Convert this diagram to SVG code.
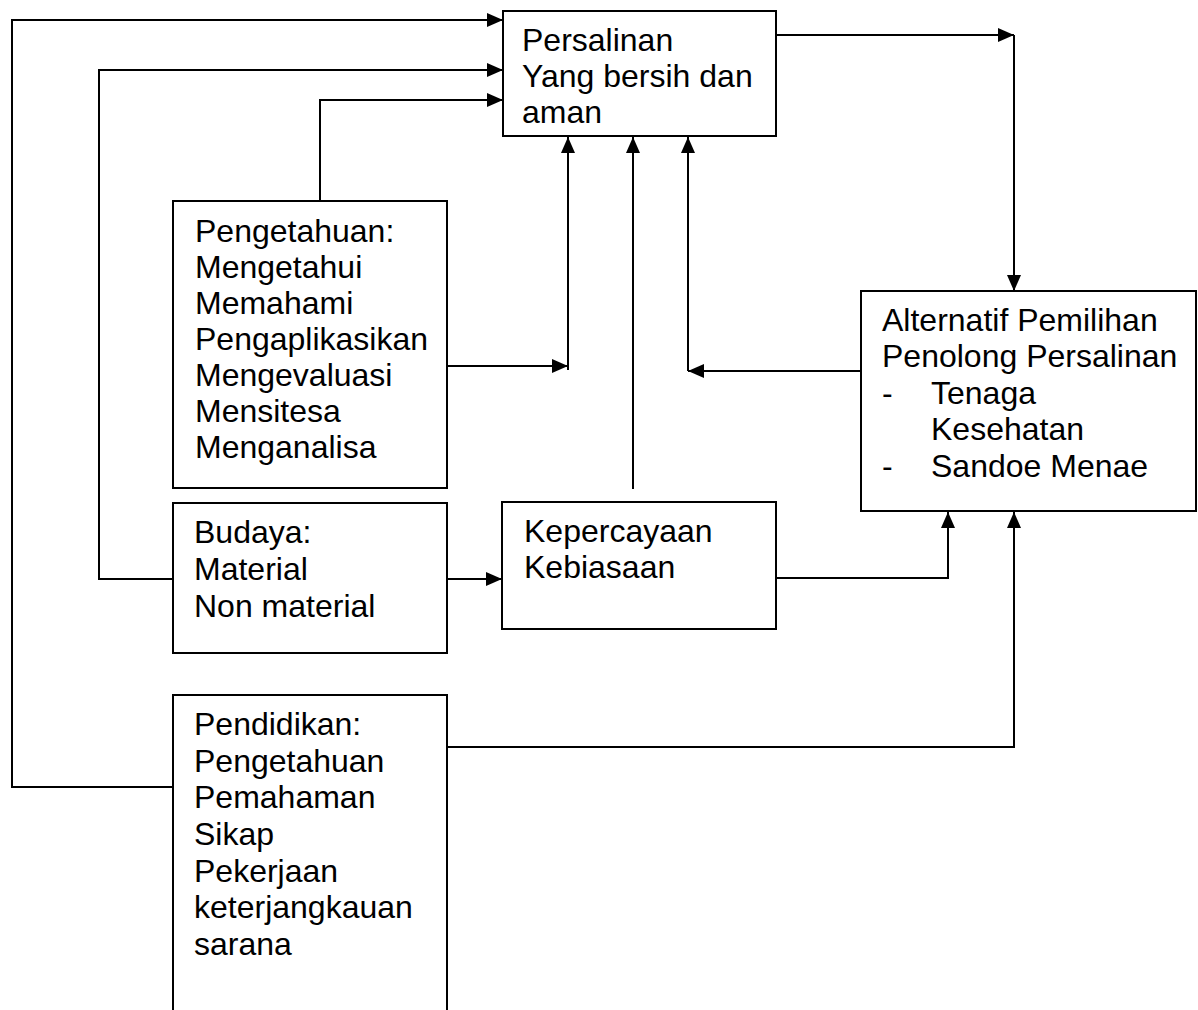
<svg xmlns="http://www.w3.org/2000/svg" width="1198" height="1010" viewBox="0 0 1198 1010">
<style>
.box{fill:#fff;stroke:#000;stroke-width:2}
.t{font-family:"Liberation Sans",Arial,sans-serif;font-size:32px;fill:#000}
.c{fill:none;stroke:#000;stroke-width:2}
.a{marker-end:url(#arr)}
</style>
<defs>
<marker id="arr" markerUnits="userSpaceOnUse" markerWidth="16" markerHeight="14" refX="16" refY="7" orient="auto">
<path d="M0,0 L16,7 L0,14 z" fill="#000"/>
</marker>
</defs>
<rect width="1198" height="1010" fill="#fff"/>
<g id="connectors">
<polyline class="c a" points="173,787 12,787 12,20 503,20"/>
<polyline class="c a" points="173,579 99,579 99,70 503,70"/>
<polyline class="c a" points="320,201 320,100 503,100"/>
<polyline class="c a" points="447,366 568,366"/>
<polyline class="c a" points="568,370 568,137"/>
<polyline class="c a" points="633,489 633,137"/>
<polyline class="c a" points="861,371 688,371"/>
<polyline class="c a" points="688,371 688,137"/>
<polyline class="c a" points="776,35 1014,35"/>
<polyline class="c a" points="1014,35 1014,291"/>
<polyline class="c a" points="447,579 502,579"/>
<polyline class="c a" points="776,578 948,578 948,512"/>
<polyline class="c a" points="447,747 1014,747 1014,512"/>
</g>
<g id="persalinan">
<rect class="box" x="503" y="11" width="273" height="125"/>
<text class="t" x="522" y="51">Persalinan</text>
<text class="t" x="522" y="87">Yang bersih dan</text>
<text class="t" x="522" y="123">aman</text>
</g>
<g id="pengetahuan">
<rect class="box" x="173" y="201" width="274" height="287"/>
<text class="t" x="195" y="242">Pengetahuan:</text>
<text class="t" x="195" y="278">Mengetahui</text>
<text class="t" x="195" y="314">Memahami</text>
<text class="t" x="195" y="350">Pengaplikasikan</text>
<text class="t" x="195" y="386">Mengevaluasi</text>
<text class="t" x="195" y="422">Mensitesa</text>
<text class="t" x="195" y="458">Menganalisa</text>
</g>
<g id="budaya">
<rect class="box" x="173" y="503" width="274" height="150"/>
<text class="t" x="194" y="543">Budaya:</text>
<text class="t" x="194" y="580">Material</text>
<text class="t" x="194" y="617">Non material</text>
</g>
<g id="kepercayaan">
<rect class="box" x="502" y="502" width="274" height="127"/>
<text class="t" x="524" y="542">Kepercayaan</text>
<text class="t" x="524" y="578">Kebiasaan</text>
</g>
<g id="alternatif">
<rect class="box" x="861" y="291" width="335" height="220"/>
<text class="t" x="882" y="331">Alternatif Pemilihan</text>
<text class="t" x="882" y="367">Penolong Persalinan</text>
<text class="t" x="882" y="404">-</text>
<text class="t" x="931" y="404">Tenaga</text>
<text class="t" x="931" y="440">Kesehatan</text>
<text class="t" x="882" y="477">-</text>
<text class="t" x="931" y="477">Sandoe Menae</text>
</g>
<g id="pendidikan">
<path class="box" d="M173,1014 V695 H447 V1014"/>
<text class="t" x="194" y="735">Pendidikan:</text>
<text class="t" x="194" y="772">Pengetahuan</text>
<text class="t" x="194" y="808">Pemahaman</text>
<text class="t" x="194" y="845">Sikap</text>
<text class="t" x="194" y="882">Pekerjaan</text>
<text class="t" x="194" y="918">keterjangkauan</text>
<text class="t" x="194" y="955">sarana</text>
</g>
</svg>
